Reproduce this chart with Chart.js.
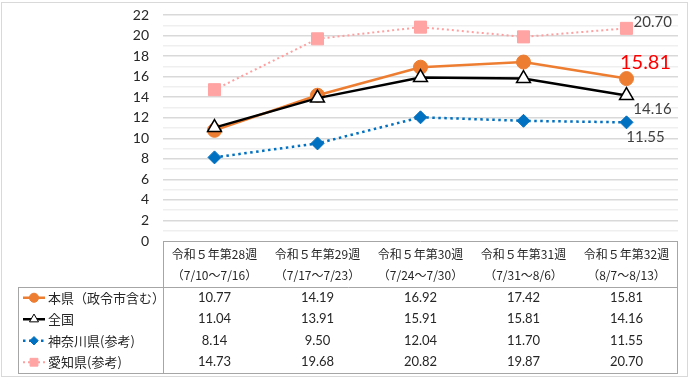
<!DOCTYPE html>
<html><head><meta charset="utf-8">
<script src="https://cdn.jsdelivr.net/npm/chart.js@4/dist/chart.umd.min.js"></script>
<style>html,body{margin:0;padding:0;background:#fff;}#wrap{width:690px;height:379px;}</style>
</head><body><div id="wrap"><canvas id="c" width="690" height="379"></canvas></div>
<script>
const weekLabels = ['令和５年第28週','令和５年第29週','令和５年第30週','令和５年第31週','令和５年第32週'];
const dateLabels = ['（7/10～7/16）','（7/17～7/23）','（7/24～7/30）','（7/31～8/6）','（8/7～8/13）'];
const seriesNames = ['本県（政令市含む）','全国','神奈川県(参考)','愛知県(参考)'];
const honken = [10.77, 14.19, 16.92, 17.42, 15.81];
const zenkoku = [11.04, 13.91, 15.91, 15.81, 14.16];
const kanagawa = [8.14, 9.50, 12.04, 11.70, 11.55];
const aichi = [14.73, 19.68, 20.82, 19.87, 20.70];
const yTicks = [0,2,4,6,8,10,12,14,16,18,20,22];

const numFont = 'Lato, "Noto Sans CJK JP", sans-serif';
const jpFont = '"Noto Sans CJK JP", sans-serif';

const styles = [
  {color:'#ED7D31', width:2.5, dash:[], point:'circle', r:7, fill:'#ED7D31', pborder:'#ED7D31'},
  {color:'#000000', width:2.5, dash:[], point:'triangle', r:8, fill:'#ffffff', pborder:'#000000'},
  {color:'#0070C0', width:2.5, dash:[2.5,3.5], point:'rectRot', r:6.5, fill:'#0070C0', pborder:'#0070C0'},
  {color:'#FF9F9F', width:2, dash:[2,3], point:'rect', r:8.5, fill:'#FFA3A3', pborder:'#FFA3A3'}
];
const allData = [honken, zenkoku, kanagawa, aichi];

const datasets = allData.map((d,i)=>({
  label: seriesNames[i], data: d,
  borderColor: styles[i].color, borderWidth: styles[i].width, borderDash: styles[i].dash,
  pointStyle: styles[i].point, pointRadius: styles[i].r, pointBackgroundColor: styles[i].fill,
  pointBorderColor: styles[i].pborder, pointBorderWidth: i===1?1.5:1, pointHoverRadius: styles[i].r,
  tension: 0, fill: false, order: 3 - i
}));

const labelsPlugin = {
  id:'endLabels',
  afterDatasetsDraw(chart){
    const ctx = chart.ctx;
    const last = weekLabels.length - 1;
    const pt = (i)=>chart.getDatasetMeta(i).data[last];
    ctx.save();
    ctx.textBaseline = 'middle';
    let p = pt(3);
    ctx.font = '15px ' + numFont; ctx.fillStyle = '#404040'; ctx.textAlign='left';
    ctx.fillText(aichi[last].toFixed(2), p.x + 7, p.y - 6);
    p = pt(0);
    ctx.font = '20px ' + numFont; ctx.fillStyle = '#FF0000'; ctx.textAlign='center';
    ctx.fillText(honken[last].toFixed(2), p.x + 19, p.y - 16);
    p = pt(1);
    ctx.font = '15px ' + numFont; ctx.fillStyle = '#404040';
    ctx.fillText(zenkoku[last].toFixed(2), p.x + 26, p.y + 14);
    p = pt(2);
    ctx.fillText(kanagawa[last].toFixed(2), p.x + 19, p.y + 15);
    ctx.restore();
  }
};

function drawMarker(ctx, st, x, y){
  ctx.save();
  ctx.fillStyle = st.fill; ctx.strokeStyle = st.pborder; ctx.lineWidth = 1;
  Chart.helpers.drawPoint(ctx, {pointStyle: st.point, radius: st.r*0.65, rotation:0, borderWidth:1}, x, y);
  ctx.restore();
}

const tablePlugin = {
  id:'dataTable',
  afterDraw(chart){
    const ctx = chart.ctx;
    const a = chart.chartArea;
    const xs = chart.scales.x;
    const top = a.bottom, hdrBot = top + 46, rowH = 21.5, bot = hdrBot + rowH*4;
    const legL = 18;
    ctx.save();
    ctx.strokeStyle = '#d9d9d9'; ctx.lineWidth = 1;
    ctx.strokeRect(1.5, 2.5, 686, 374);
    ctx.strokeStyle = '#a6a6a6'; ctx.lineWidth = 1;
    ctx.beginPath();
    ctx.moveTo(a.left, top+0.5); ctx.lineTo(a.right, top+0.5);
    ctx.moveTo(a.left+0.5, top); ctx.lineTo(a.left+0.5, bot);
    ctx.moveTo(a.right-0.5, top); ctx.lineTo(a.right-0.5, bot);
    ctx.moveTo(legL+0.5, Math.round(hdrBot)+0.5); ctx.lineTo(a.right, Math.round(hdrBot)+0.5);
    ctx.moveTo(legL+0.5, Math.round(hdrBot)); ctx.lineTo(legL+0.5, Math.round(bot));
    ctx.moveTo(legL, Math.round(bot)+0.5); ctx.lineTo(a.right, Math.round(bot)+0.5);
    ctx.stroke();
    ctx.fillStyle = '#262626'; ctx.textAlign='center'; ctx.textBaseline='middle';
    ctx.font = '12px ' + jpFont;
    weekLabels.forEach((w,i)=>{
      const x = xs.getPixelForValue(i);
      ctx.fillText(w, x, top + 13);
      ctx.fillText(dateLabels[i], x, top + 34);
    });
    allData.forEach((d,r)=>{
      const y = hdrBot + rowH*r + rowH/2;
      ctx.font = '13px ' + numFont; ctx.fillStyle='#262626'; ctx.textAlign='center';
      d.forEach((v,i)=>{ ctx.fillText(v.toFixed(2), xs.getPixelForValue(i), y); });
      const st = styles[r];
      ctx.save();
      ctx.strokeStyle = st.color; ctx.lineWidth = st.width; ctx.setLineDash(st.dash);
      ctx.beginPath(); ctx.moveTo(23, y); ctx.lineTo(45, y); ctx.stroke();
      ctx.restore();
      drawMarker(ctx, st, 34, y);
      ctx.font = '13px ' + jpFont; ctx.fillStyle='#262626'; ctx.textAlign='left';
      ctx.fillText(seriesNames[r], 48, y);
    });
    ctx.restore();
  }
};

new Chart(document.getElementById('c'), {
  type:'line',
  data:{ labels: weekLabels, datasets },
  options:{
    responsive:false, animation:false, devicePixelRatio:1,
    layout:{ padding:{ left:0, right:12, top:15, bottom:138 } },
    plugins:{ legend:{display:false}, tooltip:{enabled:false} },
    scales:{
      x:{ display:false, offset:true },
      y:{
        min:0, max:22,
        border:{display:false},
        grid:{ color:(c)=> (c.tick && c.tick.value===0) ? 'rgba(0,0,0,0)' : (c.tick && c.tick.value % 2 === 0 ? '#d9d9d9' : '#efefef'), lineWidth:1.5, drawTicks:false },
        ticks:{ stepSize:1, autoSkip:false, padding:14, color:'#262626', font:{size:14, family:numFont},
          callback:(v)=> yTicks.includes(v) ? String(v) : '' },
        afterFit:(s)=>{ s.width = 163; s.paddingTop = 0; s.paddingBottom = 0; }
      }
    }
  },
  plugins:[labelsPlugin, tablePlugin]
});
</script></body></html>
